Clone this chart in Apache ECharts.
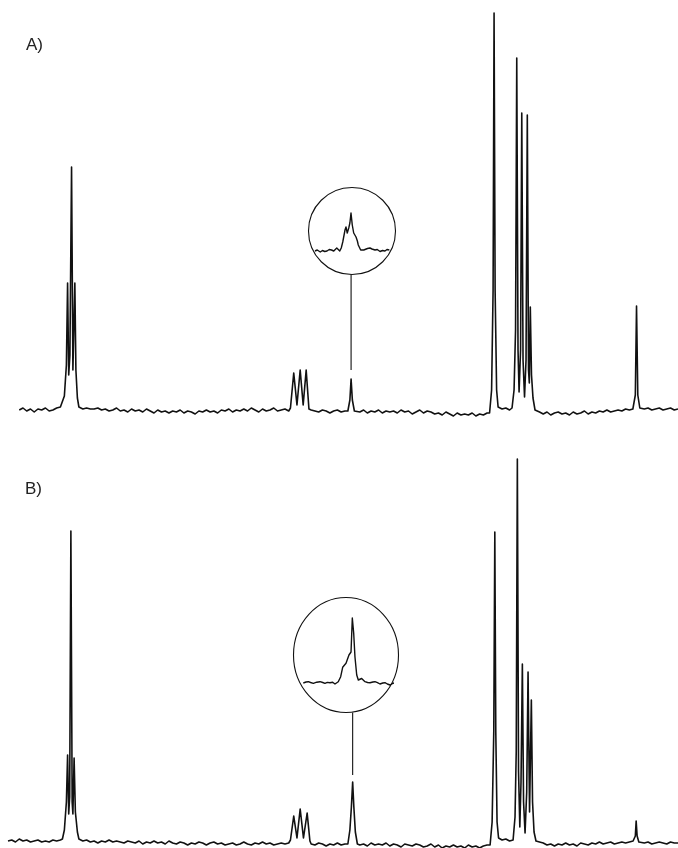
<!DOCTYPE html>
<html>
<head>
<meta charset="utf-8">
<script src="https://cdn.jsdelivr.net/npm/echarts@6/dist/echarts.min.js"></script>
<style>
  html, body { margin: 0; padding: 0; background: #fff; }
  #chart { width: 678px; height: 848px; }
</style>
</head>
<body>
<div id="chart"></div>
<script>
// 13C spectra (A, B); chemical shift in ppm, high field to the right.
// Baseline noise is sampled every 0.5 ppm; resolved lines are listed as [ppm, intensity] vertices.
const noiseStep = 0.5;

const noiseStartA = 84.0;
const noiseA = [
  0, 2, -1, 1, -2, 1, 0, 2, -1, 0,
  2, 3, 3, 3, 3, 3, 2, 1, 2, 1,
  1, 2, 0, 1, -1, 0, 2, -1, 0, -2,
  1, -1, 0, -2, 1, -1, -3, 0, -2, -1,
  -3, -1, -2, 0, -3, -1, -2, -4, -1, -2,
  0, -2, -1, -3, 0, -1, 1, -2, 0, -1,
  1, -1, 2, 0, -2, 1, -1, 0, 2, -1,
  0, 1, -1, 0, 0, 0, 0, 0, 0, -1,
  -2, 0, -1, -3, -1, 0, -2, -1, 0, 0,
  -1, -2, 0, -3, -1, -2, 0, -3, -1, -2,
  -1, -3, 0, -2, -1, -4, -2, 0, -3, -1,
  -2, -4, -3, -5, -2, -4, -6, -3, -5, -4,
  -5, -3, -6, -4, -5, -3, 0, 0, 2, 1,
  2, 0, 0, 0, 0, 0, 0, 0, -1, -2,
  -4, -2, -5, -3, -2, -4, -3, -5, -2, -4,
  -3, -1, -4, -2, -3, -1, -2, 0, -2, -1,
  0, -1, 1, 0, 0, 0, 2, 1, 2, 0,
  1, 2, 0, 1, 2, 0, 1
];

const noiseStartB = 85.5;
const noiseB = [
  1, 2, 0, 3, 1, 2, 0, 1, 2, 0,
  1, 0, 2, 1, 2, 0, 0, 0, 0, 2,
  1, 2, 0, 1, -1, 1, 0, 2, 0, 1,
  0, -1, 1, 0, -1, 1, -2, 0, -1, 1,
  -1, 0, -2, 1, -1, -2, 0, -1, -3, -1,
  -2, 0, -1, -3, -1, 0, -2, -1, -3, -2,
  -1, -3, -2, 0, -2, -3, -1, -2, 0, -2,
  -1, -3, -2, -1, -2, -1, 0, 0, 0, 0,
  0, -2, -3, -1, -2, -4, -2, -3, -1, -3,
  -2, 0, 0, 0, -3, -2, -4, -1, -3, -2,
  -3, -1, -4, -2, -3, -5, -2, -3, -4, -2,
  -3, -5, -4, -2, -5, -3, -6, -4, -5, -3,
  -5, -4, -6, -3, -5, -4, -6, -4, -3, 0,
  0, 0, 2, 3, 1, 0, 0, 0, 0, 0,
  0, 0, 0, -1, -3, -2, -4, -2, -3, -1,
  -3, -2, -4, -1, -2, -3, -1, -2, 0, -2,
  -1, 0, -2, -1, 0, -1, 0, 1, 0, 0,
  -1, 0, -2, -1, 0, -1, -2, 0, -1, -1
];

// Resolved signals, spectrum A
const solventA = [[78.30, 3], [77.97, 14], [77.70, 45], [77.54, 127], [77.39, 35], [77.23, 55], [77.01, 243], [76.83, 40], [76.57, 127], [76.43, 40], [76.23, 12], [76.03, 3]];
const tripletA = [[47.77, 2], [47.33, 37], [46.90, 5], [46.47, 40], [46.07, 5], [45.67, 40], [45.30, 1]];
const labelledA = [[40.10, -1], [39.83, 10], [39.67, 31], [39.50, 10], [39.23, -1]];
const singletA = [[21.17, -3], [20.90, 20], [20.70, 120], [20.57, 397], [20.43, 120], [20.23, 20], [20.03, 3]];
const clusterA = [[18.17, 2], [17.90, 20], [17.70, 80], [17.54, 352], [17.37, 60], [17.23, 18], [17.03, 60], [16.87, 297], [16.70, 50], [16.50, 13], [16.30, 50], [16.13, 295], [15.97, 40], [15.86, 27], [15.73, 103], [15.57, 35], [15.37, 12], [15.10, 0]];
const highFieldA = [[2.03, 1], [1.70, 15], [1.54, 104], [1.37, 15], [1.10, 2]];

// Resolved signals, spectrum B
const solventB = [[78.23, 3], [77.97, 12], [77.70, 40], [77.54, 87], [77.39, 28], [77.26, 45], [77.10, 311], [76.93, 40], [76.83, 28], [76.67, 84], [76.50, 30], [76.23, 10], [76.03, 3]];
const tripletB = [[47.77, 2], [47.33, 26], [46.90, 4], [46.47, 33], [46.03, 4], [45.54, 29], [45.17, 1]];
const labelledB = [[40.10, -2], [39.83, 12], [39.63, 35], [39.46, 60], [39.30, 35], [39.10, 10], [38.83, -2]];
const singletB = [[21.10, -3], [20.83, 20], [20.61, 110], [20.47, 310], [20.34, 110], [20.17, 20], [19.97, 4]];
const clusterB = [[18.03, 2], [17.77, 25], [17.61, 90], [17.46, 383], [17.30, 70], [17.13, 15], [16.97, 60], [16.79, 178], [16.63, 40], [16.43, 9], [16.21, 50], [16.03, 170], [15.83, 30], [15.59, 142], [15.43, 40], [15.23, 10], [14.97, 1]];
const highFieldB = [[1.97, 0], [1.70, 6], [1.59, 21], [1.46, 6], [1.23, 0]];

// Expanded views of the ~39.6 ppm signal
const expansionA = [
  [40.15, 0], [40.12, 1], [40.08, -1], [40.05, 0.5], [40.02, -0.5], [39.99, 0], [39.96, 1.5], [39.93, 1],
  [39.90, 0], [39.88, 1.5], [39.86, 3], [39.84, 1], [39.82, 0], [39.80, 3], [39.78, 9], [39.76, 17],
  [39.75, 21], [39.737, 24], [39.72, 18], [39.70, 23], [39.685, 28], [39.67, 38], [39.653, 26], [39.634, 18],
  [39.62, 17], [39.603, 14], [39.585, 10], [39.573, 6], [39.541, 1], [39.52, 2.5], [39.50, 1], [39.483, 2],
  [39.45, 2.5], [39.417, 3], [39.39, 2], [39.35, 1], [39.32, 1.5], [39.283, -0.5], [39.25, 0.5], [39.217, 0],
  [39.19, 1.5], [39.159, 1]
];
const expansionB = [
  [40.106, 0], [40.07, 1], [40.04, 1.3], [40.01, 0.5], [39.974, -0.3], [39.93, 0.8], [39.886, 1.3], [39.85, 0.5],
  [39.821, -0.3], [39.79, 0.6], [39.755, 0.3], [39.72, 0.8], [39.689, -1], [39.665, 0], [39.646, 1.3], [39.614, 6.3],
  [39.588, 15.7], [39.571, 13.7], [39.544, 19.7], [39.527, 18], [39.505, 28], [39.478, 31], [39.461, 65], [39.443, 50],
  [39.426, 26], [39.403, 8], [39.382, 3], [39.36, 4.7], [39.338, 4.5], [39.294, 1.3], [39.26, 0.5], [39.228, 0.3],
  [39.19, 1], [39.163, 1.3], [39.13, 0.3], [39.097, -1], [39.06, 0], [39.031, 0.3], [39.0, -1], [38.965, -2],
  [38.93, -0.5], [38.899, 0.3], [38.856, -0.3]
];

const panelLabels = ['A)', 'B)'];
const expandedShift = [39.67, 39.46];
const expandedHeight = [31, 60];

const multipletsA = [solventA, tripletA, labelledA, singletA, clusterA, highFieldA];
const multipletsB = [solventB, tripletB, labelledB, singletB, clusterB, highFieldB];

// Merge baseline noise with the resolved lines; noise samples inside a line's span are dropped.
function buildTrace(start, values, multiplets) {
  const spans = multiplets.map(m => [Math.min(...m.map(p => p[0])), Math.max(...m.map(p => p[0]))]);
  const pts = [];
  values.forEach((v, i) => {
    const x = +(start - i * noiseStep).toFixed(3);
    if (!spans.some(s => x >= s[0] && x <= s[1])) pts.push([x, v]);
  });
  multiplets.forEach(m => m.forEach(p => pts.push(p)));
  pts.sort((a, b) => b[0] - a[0]);
  return pts;
}

const traceA = buildTrace(noiseStartA, noiseA, multipletsA);
const traceB = buildTrace(noiseStartB, noiseB, multipletsB);

const ink = '#111111';
const hiddenX = (min, max, grid) => ({ type: 'value', gridIndex: grid, min, max, inverse: true, show: false });
const hiddenY = (min, max, grid) => ({ type: 'value', gridIndex: grid, min, max, show: false });
const traceSeries = (data, idx, width) => ({
  type: 'line', xAxisIndex: idx, yAxisIndex: idx, data,
  symbol: 'none', showSymbol: false, clip: true, silent: true,
  lineStyle: { color: ink, width, join: 'round' }
});

const chart = echarts.init(document.getElementById('chart'), null, { renderer: 'canvas' });
chart.setOption({
  animation: false,
  backgroundColor: '#ffffff',
  grid: [
    { left: 8, top: 10, width: 671.25, height: 410 },
    { left: 8, top: 442, width: 671.25, height: 406 },
    { left: 315, top: 206, width: 75, height: 50 },
    { left: 303, top: 613, width: 88.9, height: 75 }
  ],
  xAxis: [
    hiddenX(-4, 85.5, 0),
    hiddenX(-4, 85.5, 1),
    hiddenX(39.15, 40.15, 2),
    hiddenX(38.94, 40.11, 3)
  ],
  yAxis: [
    hiddenY(-10, 400, 0),
    hiddenY(-6, 400, 1),
    hiddenY(-5, 45, 2),
    hiddenY(-5, 70, 3)
  ],
  series: [
    traceSeries(traceA, 0, 1.6),
    traceSeries(traceB, 1, 1.6),
    traceSeries(expansionA, 2, 1.4),
    traceSeries(expansionB, 3, 1.4)
  ]
});

// Magnifier circles and their pointer lines down to the expanded signal
const lens = [
  { cx: 352, cy: 231, rx: 43.5, ry: 43.5, gap: 9 },
  { cx: 346, cy: 655, rx: 52.5, ry: 57.5, gap: 7 }
];
const graphics = [];
lens.forEach((c, i) => {
  graphics.push({
    type: 'ellipse', silent: true,
    shape: { cx: c.cx, cy: c.cy, rx: c.rx, ry: c.ry },
    style: { fill: 'none', stroke: ink, lineWidth: 1.1 }
  });
  const top = chart.convertToPixel({ gridIndex: i }, [expandedShift[i], expandedHeight[i]]);
  graphics.push({
    type: 'line', silent: true,
    shape: { x1: top[0], y1: c.cy + c.ry, x2: top[0], y2: top[1] - c.gap },
    style: { stroke: ink, lineWidth: 1.1 }
  });
});
graphics.push({ type: 'text', left: 26, top: 37, style: { text: panelLabels[0], font: '17px "Liberation Sans"', fill: '#222' } });
graphics.push({ type: 'text', left: 25, top: 481, style: { text: panelLabels[1], font: '17px "Liberation Sans"', fill: '#222' } });
chart.setOption({ graphic: graphics });
</script>
</body>
</html>
